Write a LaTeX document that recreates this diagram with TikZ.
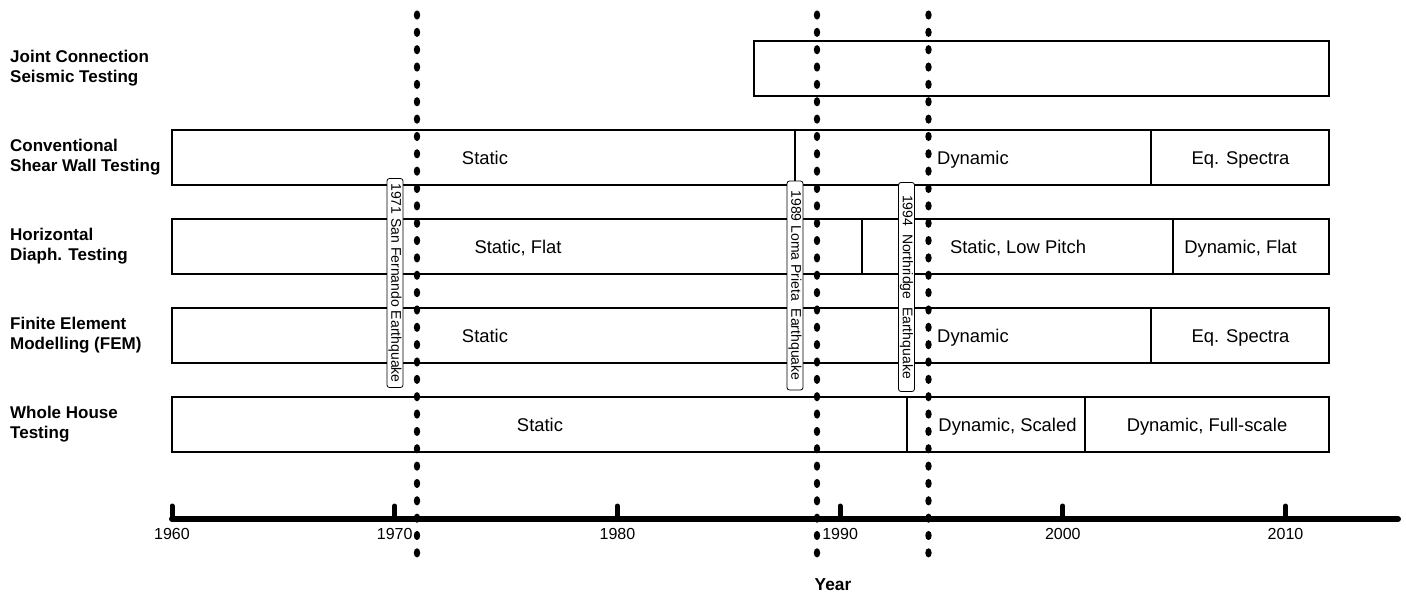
\documentclass[tikz,border=0pt]{standalone}
\usepackage{fontspec}
\setmainfont{Liberation Sans}
\begin{document}
\begin{tikzpicture}[x=1pt,y=-1pt,
  seg/.style={draw,line width=1.2pt,minimum height=55pt,inner sep=0pt,outer sep=0pt},
  segtxt/.style={inner sep=0pt,anchor=base,font=\fontsize{18.4}{22}\selectfont},
  rowlab/.style={anchor=west,align=left,inner sep=0pt,font=\fontsize{17}{20}\selectfont\bfseries},
  quake/.style={draw,fill=white,line width=0.8pt,rounded corners=2.5pt,rotate=-90,
    minimum width=209pt,minimum height=16pt,inner sep=1pt,font=\fontsize{14}{16}\selectfont},
  ticklab/.style={inner sep=0pt,anchor=base,font=\fontsize{16}{18}\selectfont},
  axisline/.style={line width=6pt,line cap=round},
  tickline/.style={line width=5pt,line cap=round}]
\useasboundingbox (0,0) rectangle (1406,594);
% row labels
\node[rowlab] (l1) at (10,68.5) {Joint Connection\\Seismic Testing};
\node[rowlab] (l2) at (10,157.5) {Conventional\\Shear Wall Testing};
\node[rowlab] (l3) at (10,246.5) {Horizontal\\Diaph. Testing};
\node[rowlab] (l4) at (10,335.5) {Finite Element\\Modelling (FEM)};
\node[rowlab] (l5) at (10,424.5) {Whole House\\Testing};
% row 1
\node[seg,minimum width=575pt] (r1a) at (1041.5,68.5) {};
% row 2
\node[seg,minimum width=623pt] (r2a) at (483.5,157.5) {};
\node[seg,minimum width=356pt] (r2b) at (973,157.5) {};
\node[seg,minimum width=178pt] (r2c) at (1240,157.5) {};
\node[segtxt] (t2a) at (485,164) {Static};
\node[segtxt] (t2b) at (973,164) {Dynamic};
\node[segtxt] (t2c) at (1240.5,164) {Eq. Spectra};
% row 3
\node[seg,minimum width=690pt] (r3a) at (517,246.5) {};
\node[seg,minimum width=311pt] (r3b) at (1017.5,246.5) {};
\node[seg,minimum width=156pt] (r3c) at (1251,246.5) {};
\node[segtxt] (t3a) at (518,253) {Static, Flat};
\node[segtxt] (t3b) at (1018,253) {Static, Low Pitch};
\node[segtxt] (t3c) at (1240.5,253) {Dynamic, Flat};
% row 4
\node[seg,minimum width=623pt] (r4a) at (483.5,335.5) {};
\node[seg,minimum width=356pt] (r4b) at (973,335.5) {};
\node[seg,minimum width=178pt] (r4c) at (1240,335.5) {};
\node[segtxt] (t4a) at (485,342) {Static};
\node[segtxt] (t4b) at (973,342) {Dynamic};
\node[segtxt] (t4c) at (1240.5,342) {Eq. Spectra};
% row 5
\node[seg,minimum width=735pt] (r5a) at (539.5,424.5) {};
\node[seg,minimum width=178pt] (r5b) at (996,424.5) {};
\node[seg,minimum width=244pt] (r5c) at (1207,424.5) {};
\node[segtxt] (t5a) at (540,431) {Static};
\node[segtxt] (t5b) at (1007.5,431) {Dynamic, Scaled};
\node[segtxt] (t5c) at (1207,431) {Dynamic, Full-scale};
% earthquake labels
\node[quake] (q1) at (395,283) {1971 San Fernando Earthquake};
\node[quake] (q2) at (795,285.5) {1989 Loma Prieta\ \ Earthquake};
\node[quake] (q3) at (906.5,287) {1994\ \ Northridge\ \ Earthquake};
% axis
\coordinate (ax0) at (172,519);
\coordinate (ax1) at (1398,519);
\draw[axisline] (ax0) -- (ax1);
\foreach \yr [count=\i] in {1960,1970,1980,1990,2000,2010}{
  \coordinate (tk\i) at ({172+22.27*(\yr-1960)},519);
  \draw[tickline] (tk\i) -- ++(0,-13);
  \node[ticklab] (tl\i) at ({172+22.27*(\yr-1960)},539.5) {\yr};
}
\node[inner sep=0pt,anchor=base,font=\fontsize{17.3}{20}\selectfont\bfseries] (year) at (833,590) {Year};
% dotted event lines
\foreach \xx in {417,817,928.5}{
  \foreach \k in {0,...,31}{
    \fill ({\xx},{15+17.35*\k}) ellipse (3.2pt and 4.6pt);
  }
}
\end{tikzpicture}
\end{document}
